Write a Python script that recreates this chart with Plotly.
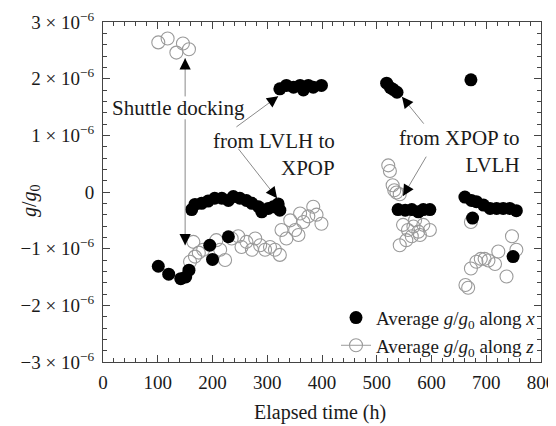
import plotly.graph_objects as go

# ---- data (hours, g/g0 in units of 1e-6) ----
x_hours = [101, 120, 142, 151, 157, 195, 200, 229,
           162, 168, 180, 192, 204, 217, 229, 238, 250, 262, 272, 284, 290, 302, 311, 320, 323,
           323, 335, 348, 360, 366, 375, 384, 399,
           518, 525, 530, 537, 672,
           539, 552, 564, 576, 585, 597,
           661, 673, 682, 695, 707, 719, 731, 743, 755, 675, 749]
x_vals = [-1.31, -1.45, -1.53, -1.50, -1.38, -0.94, -1.19, -0.79,
          -0.31, -0.22, -0.20, -0.16, -0.11, -0.11, -0.15, -0.08, -0.11, -0.15, -0.20, -0.26, -0.35, -0.29, -0.26, -0.21, -0.32,
          1.82, 1.88, 1.85, 1.88, 1.80, 1.88, 1.85, 1.88,
          1.92, 1.84, 1.81, 1.76, 1.98,
          -0.31, -0.32, -0.31, -0.35, -0.31, -0.31,
          -0.09, -0.15, -0.17, -0.23, -0.29, -0.29, -0.29, -0.29, -0.33, -0.46, -1.14]

z_hours = [101, 118, 134, 146, 157,
           159, 165, 168, 175, 183, 207, 214, 223, 235, 247, 253, 262, 272, 278, 287, 296, 305, 314,
           323, 326, 335, 342, 351, 357, 360, 366, 375, 384, 390, 399,
           521, 524, 529, 532, 536, 542, 548, 557, 567, 576, 585, 597, 564, 579, 542, 554, 570,
           662, 667, 672, 682, 690, 697, 704, 716, 722, 737, 747, 755, 672]
z_vals = [2.64, 2.71, 2.46, 2.62, 2.52,
          -1.23, -0.88, -1.14, -1.07, -1.02, -0.85, -1.02, -1.20, -0.82, -0.78, -0.97, -0.88, -1.02, -0.82, -0.94, -1.02, -0.97, -1.02,
          -1.11, -0.67, -0.82, -0.50, -0.67, -0.76, -0.38, -0.53, -0.43, -0.26, -0.40, -0.56,
          0.47, 0.37, 0.12, 0.03, -0.01, -0.04, -0.58, -0.67, -0.61, -0.70, -0.58, -0.67, -0.78, -0.76, -0.94, -0.85, -0.50,
          -1.64, -1.69, -1.35, -1.23, -1.18, -1.18, -1.21, -1.27, -1.05, -1.49, -0.78, -1.02, -0.53]

x_ticks = [0, 100, 200, 300, 400, 500, 600, 700, 800]
y_ticks = [-3, -2, -1, 0, 1, 2, 3]
y_ticktext = ["−3 × 10<sup>−6</sup>", "−2 × 10<sup>−6</sup>", "−1 × 10<sup>−6</sup>", "0",
              "1 × 10<sup>−6</sup>", "2 × 10<sup>−6</sup>", "3 × 10<sup>−6</sup>"]

SCALE = 1e-6
FONT = "Liberation Serif, Times New Roman, serif"

# interleave None so the z series shows a legend line but no connecting lines
zx, zy = [], []
for h, v in zip(z_hours, z_vals):
    zx += [h, None]
    zy += [v * SCALE, None]

fig = go.Figure()
fig.add_trace(go.Scatter(
    x=zx, y=zy, mode="lines+markers", connectgaps=False,
    name="Average <i>g</i>/<i>g</i><sub>0</sub> along <i>z</i>",
    line=dict(color="#9a9a9a", width=1),
    marker=dict(symbol="circle-open", size=13, color="#9a9a9a", line=dict(width=1.1, color="#9a9a9a")),
    legendrank=2))
fig.add_trace(go.Scatter(
    x=x_hours, y=[v * SCALE for v in x_vals], mode="markers",
    name="Average <i>g</i>/<i>g</i><sub>0</sub> along <i>x</i>",
    marker=dict(symbol="circle", size=13, color="black"),
    legendrank=1))

PX_H = 438 / 800.0
PX_V = 340 / 6.0

def arrow(tip, tail):
    th, tv = tip
    ah, av = tail
    # grey shaft
    fig.add_annotation(x=th, y=tv * SCALE, ax=ah, ay=av * SCALE, axref="x", ayref="y",
                       xref="x", yref="y", text="", showarrow=True, arrowhead=0,
                       arrowwidth=1, arrowcolor="#8a8a8a", standoff=0)
    # black head
    dx = (ah - th) * PX_H
    dy = -(av - tv) * PX_V
    n = (dx * dx + dy * dy) ** 0.5
    fig.add_annotation(x=th, y=tv * SCALE, ax=dx / n * 9, ay=dy / n * 9,
                       xref="x", yref="y", text="", showarrow=True, arrowhead=2,
                       arrowwidth=1.5, arrowsize=1.5, arrowcolor="black", standoff=0)

arrow((150, 2.36), (150, 1.66))
arrow((150, -0.94), (150, 1.31))
arrow((320, 1.69), (241, 1.13))
arrow((318, -0.11), (245, 0.79))
arrow((546, 1.68), (588, 1.18))
arrow((548, -0.07), (592, 0.65))

txt_font = dict(family=FONT, size=21, color="#1a1a1a")
fig.add_annotation(x=137, y=1.49 * SCALE, xref="x", yref="y", text="Shuttle docking",
                   showarrow=False, font=txt_font)
fig.add_annotation(x=428, y=0.66 * SCALE, xref="x", yref="y", text="from LVLH to<br>XPOP",
                   showarrow=False, font=txt_font, align="right", xanchor="right")
fig.add_annotation(x=765, y=0.71 * SCALE, xref="x", yref="y", text="from XPOP to<br>LVLH",
                   showarrow=False, font=txt_font, align="right", xanchor="right")

# axis titles
fig.add_annotation(x=-0.167, y=0.476, xref="paper", yref="paper", xanchor="center", yanchor="middle",
                   text="<i>g</i>/<i>g</i><sub>0</sub>", textangle=-90, showarrow=False,
                   font=dict(family=FONT, size=20, color="#1a1a1a"))
fig.add_annotation(x=0.495, y=-0.15, xref="paper", yref="paper", xanchor="center", yanchor="middle",
                   text="Elapsed time (h)",
                   showarrow=False, font=dict(family=FONT, size=20, color="#1a1a1a"))

axis_common = dict(showline=True, linecolor="#444", linewidth=1, mirror="ticks",
                   ticks="inside", ticklen=7, tickcolor="#444", showgrid=False, zeroline=False,
                   automargin=False,
                   tickfont=dict(family=FONT, size=19, color="#1a1a1a"))

fig.update_xaxes(range=[0, 800], tickvals=x_ticks,
                 minor=dict(dtick=20, ticks="inside", ticklen=4, tickcolor="#444"),
                 ticklabelstandoff=3,
                 **axis_common)
fig.update_yaxes(range=[-3 * SCALE, 3 * SCALE], tickvals=[t * SCALE for t in y_ticks],
                 ticktext=y_ticktext,
                 minor=dict(dtick=0.2 * SCALE, ticks="inside", ticklen=4, tickcolor="#444"),
                 ticklabelstandoff=4,
                 **axis_common)

# the page adds an 8px body margin, so the figure is sized to the visible area
fig.update_layout(
    width=548, height=418,
    margin=dict(l=95, r=15, t=14, b=64, autoexpand=False),
    paper_bgcolor="white", plot_bgcolor="white",
    showlegend=True,
    legend=dict(x=1, y=-0.008, xanchor="right", yanchor="bottom", bgcolor="rgba(0,0,0,0)",
                font=dict(family=FONT, size=19, color="#1a1a1a"), tracegroupgap=0,
                itemwidth=30),
)

fig.write_html("out.html")
